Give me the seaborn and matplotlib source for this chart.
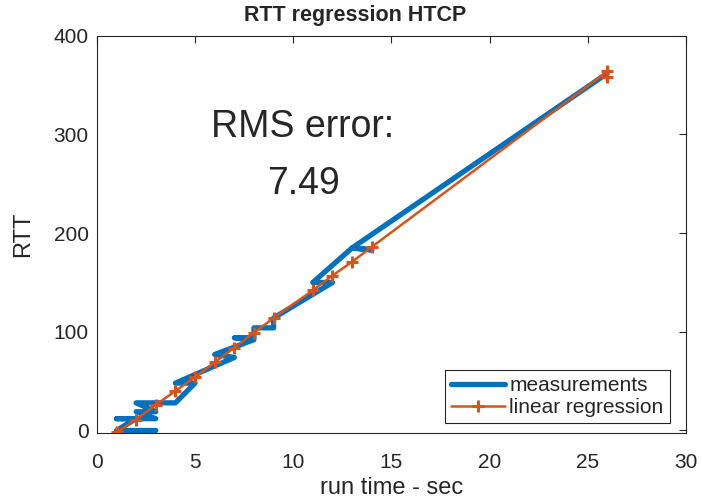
import matplotlib
matplotlib.use("Agg")
import matplotlib.pyplot as plt
import seaborn as sns
import pandas as pd

# measured RTT path (run time in sec, RTT)
meas_x = [3, 1, 2, 1, 3, 2, 3, 2, 4, 5, 4, 7, 6, 8, 7, 8, 8, 9, 9, 12, 11, 13, 14, 13, 26]
meas_y = [0, 0, 12, 12, 12, 19, 19, 28, 28, 48, 48, 74, 77, 92, 94, 94, 104, 104, 114, 150, 150, 185, 183, 185, 362]

# linear regression prediction
reg_x = [1, 2, 3, 4, 5, 6, 7, 8, 9, 11, 12, 13, 14, 26, 26]
reg_y = [-2, 11, 26, 40, 54, 69, 84, 99, 114, 142, 157, 171, 186, 364, 358]

title = "RTT regression HTCP"
xlabel = "run time - sec"
ylabel = "RTT"
rms_label = "RMS error:"
rms_value = "7.49"
x_ticks = [0, 5, 10, 15, 20, 25, 30]
y_ticks = [0, 100, 200, 300, 400]

sns.set_style("white")
plt.rcParams['font.family'] = ['Liberation Sans', 'DejaVu Sans']

fig = plt.figure(figsize=(7.02, 5.04), dpi=100)
ax = fig.add_axes([0.138, 0.140, 0.839, 0.789])

blue = "#0072BD"
orange = "#D95319"

df_m = pd.DataFrame({"x": meas_x, "y": meas_y})
df_r = pd.DataFrame({"x": reg_x, "y": reg_y})

sns.lineplot(data=df_m, x="x", y="y", sort=False, estimator=None, ax=ax,
             color=blue, linewidth=3.8, solid_capstyle='round',
             solid_joinstyle='round', label="measurements")
sns.lineplot(data=df_r, x="x", y="y", sort=False, estimator=None, ax=ax,
             color=orange, linewidth=1.8, marker='+', markersize=8,
             markeredgewidth=2.2, markeredgecolor=orange, label="linear regression")

ax.set_xlim(0, 30)
ax.set_ylim(-3, 400)
ax.set_xticks(x_ticks)
ax.set_yticks(y_ticks)
ax.tick_params(direction='in', length=5, width=0.8, colors='#262626',
               labelsize=15, top=True, right=True, labeltop=False, labelright=False)
ax.tick_params(axis='x', pad=14)
ax.tick_params(axis='y', pad=6)
for s in ax.spines.values():
    s.set_color('#262626')
    s.set_linewidth(0.8)
    s.set_visible(True)

ax.set_title(title, fontsize=15.5, fontweight='bold', pad=11, x=0.438)
ax.set_xlabel(xlabel, fontsize=17, labelpad=4, color='#262626')
ax.set_ylabel(ylabel, fontsize=17, labelpad=14, color='#262626')

ax.text(10.5, 308, rms_label, fontsize=27, ha='center', va='center')
ax.text(10.5, 250, rms_value, fontsize=27, ha='center', va='center')

leg = ax.legend(loc='lower right', bbox_to_anchor=(0.973, 0.026), borderaxespad=0,
                fontsize=15, handlelength=2.6, handletextpad=0.2, labelspacing=0.12,
                borderpad=0.3, frameon=True, fancybox=False, framealpha=1)
leg.get_frame().set_edgecolor('#262626')
leg.get_frame().set_linewidth(0.8)

fig.savefig("out.png", dpi=100, facecolor='white')
